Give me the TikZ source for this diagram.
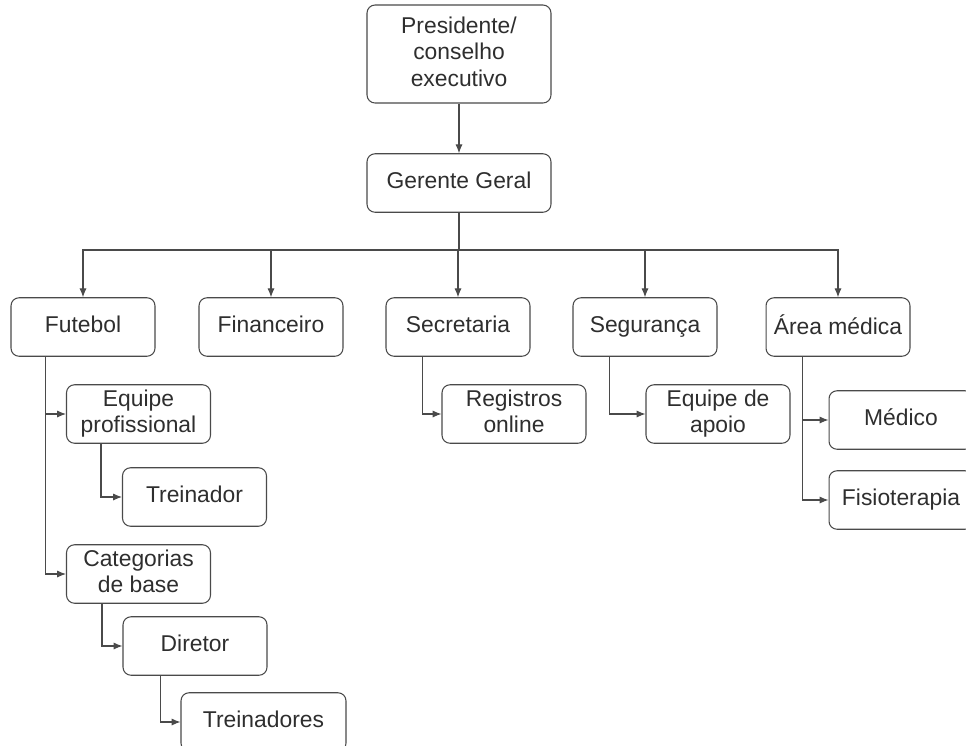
\documentclass[tikz,border=0pt]{standalone}
\usepackage{fontspec}
\setmainfont{Liberation Sans}
\usepackage{xcolor}
\usetikzlibrary{arrows.meta, positioning}

\definecolor{linegray}{HTML}{4A4A4A}
\definecolor{textgray}{HTML}{2E2E2E}
\newcommand{\boxstrut}{\rule[-3pt]{0pt}{12.3pt}}

\begin{document}
\begin{tikzpicture}[
    x=0.02cm, y=-0.02cm,
    box/.style={rectangle, draw=linegray, line width=0.6pt, rounded corners=0.16cm, align=center, text=textgray, font=\fontsize{13}{15}\selectfont, minimum width=2.88cm, minimum height=1.17cm, inner sep=2pt, execute at begin node=\boxstrut, execute at end node=\boxstrut},
    conn/.style={draw=linegray, line width=0.6pt, -{Latex[length=5pt,width=4pt]}}
]
\useasboundingbox (0,0) rectangle (966,745);

% Top
\node[box, minimum width=3.68cm, minimum height=1.96cm] (pres) at (459,54) {Presidente/\\conselho\\executivo};
\node[box, minimum width=3.68cm] (ger) at (459,183) {Gerente Geral};
\coordinate (bus) at (459,250);

% Departments
\node[box] (fut) at (83,327) {Futebol};
\node[box] (fin) at (271,327) {Financeiro};
\node[box] (sec) at (458,327) {Secretaria};
\node[box] (seg) at (645,327) {Segurança};
\node[box] (med) at (838,327) {Área médica};

% Futebol
\node[box] (eqp) at (138.5,414) {Equipe\\profissional};
\node[box] (trn) at (194.5,497) {Treinador};
\node[box] (cat) at (138.5,574) {Categorias\\de base};
\node[box] (dir) at (195,646) {Diretor};
\node[box, minimum width=3.3cm] (trs) at (263.5,722) {Treinadores};

% Others
\node[box] (reg) at (514,414) {Registros\\online};
\node[box] (apo) at (718,414) {Equipe de\\apoio};
\node[box] (medico) at (901,420) {Médico};
\node[box] (fisio) at (901,500) {Fisioterapia};

% Arrows
\draw[conn] (pres) -- (ger);
\foreach \n in {fut,fin,sec,seg,med}
    \draw[conn] (ger.south) -- (bus) -| (\n.north);
\draw[conn] (fut.south west) ++(35,0) |- (eqp.west);
\draw[conn] (fut.south west) ++(35,0) |- (cat.west);
\draw[conn] (eqp.south west) ++(35,0) |- (trn.west);
\draw[conn] (cat.south west) ++(36,0) |- (dir.west);
\draw[conn] (dir.south west) ++(38,0) |- (trs.west);
\draw[conn] (sec.south west) ++(37,0) |- (reg.west);
\draw[conn] (seg.south west) ++(37,0) |- (apo.west);
\draw[conn] (med.south west) ++(37,0) |- (medico.west);
\draw[conn] (med.south west) ++(37,0) |- (fisio.west);

\end{tikzpicture}
\end{document}
